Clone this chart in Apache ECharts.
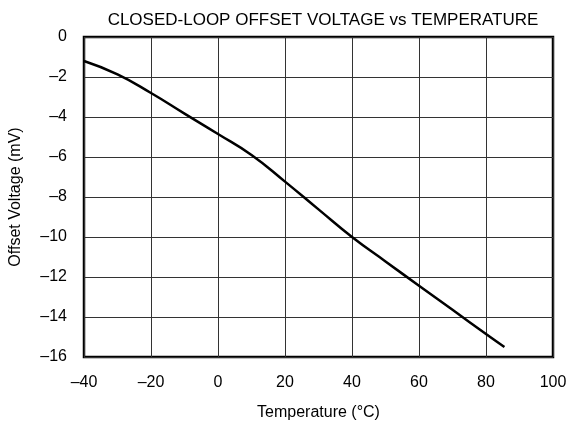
<!DOCTYPE html>
<html>
<head>
<meta charset="utf-8">
<script src="https://cdn.jsdelivr.net/npm/echarts@6/dist/echarts.min.js"></script>
<style>html,body{margin:0;padding:0;background:#fff;}#c{width:570px;height:426px;}</style>
</head>
<body>
<div id="c"></div>
<script>
var temperature = [-40, -30, -20, -10, 0, 10, 20, 30, 40, 50, 60, 70, 80, 85.5];
var offsetVoltage = [-1.2, -1.87, -2.8, -3.83, -4.85, -5.9, -7.23, -8.62, -10.0, -11.22, -12.44, -13.64, -14.85, -15.5];
var titleText = 'CLOSED-LOOP OFFSET VOLTAGE vs TEMPERATURE';
var xName = 'Temperature (°C)';
var yName = 'Offset Voltage (mV)';

var pts = temperature.map(function (t, i) { return [t, offsetVoltage[i]]; });
function dash(v) { return String(v).replace('-', '\u2013'); }
var font = 'Liberation Sans, Arial, sans-serif';
var chart = echarts.init(document.getElementById('c'), null, { renderer: 'canvas' });
chart.setOption({
  backgroundColor: '#fff',
  animation: false,
  title: {
    text: titleText, left: 318, top: 7, textAlign: 'center',
    textStyle: { fontFamily: font, fontSize: 17, fontWeight: 'normal', color: '#000' }
  },
  grid: { left: 83, right: 17, top: 37, bottom: 69, show: true, borderColor: '#000', borderWidth: 2.5, backgroundColor: 'transparent' },
  xAxis: {
    type: 'value', min: -40, max: 100, interval: 20,
    name: xName, nameLocation: 'middle', nameGap: 48,
    nameTextStyle: { fontFamily: font, fontSize: 16, color: '#000' },
    axisLine: { show: false }, axisTick: { show: false },
    axisLabel: { formatter: dash, fontFamily: font, fontSize: 16, color: '#000', margin: 18 },
    splitLine: { show: true, lineStyle: { color: '#333', width: 1 } }
  },
  yAxis: {
    type: 'value', min: -16, max: 0, interval: 2,
    name: yName, nameLocation: 'middle', nameGap: 60, nameRotate: 90,
    nameTextStyle: { fontFamily: font, fontSize: 16, color: '#000' },
    axisLine: { show: false }, axisTick: { show: false },
    axisLabel: { formatter: dash, fontFamily: font, fontSize: 16, color: '#000', margin: 17 },
    splitLine: { show: true, lineStyle: { color: '#333', width: 1 } }
  },
  series: [{
    type: 'line', data: pts, smooth: 0.5, showSymbol: false,
    lineStyle: { color: '#000', width: 2.5 }
  }]
});
</script>
</body>
</html>
